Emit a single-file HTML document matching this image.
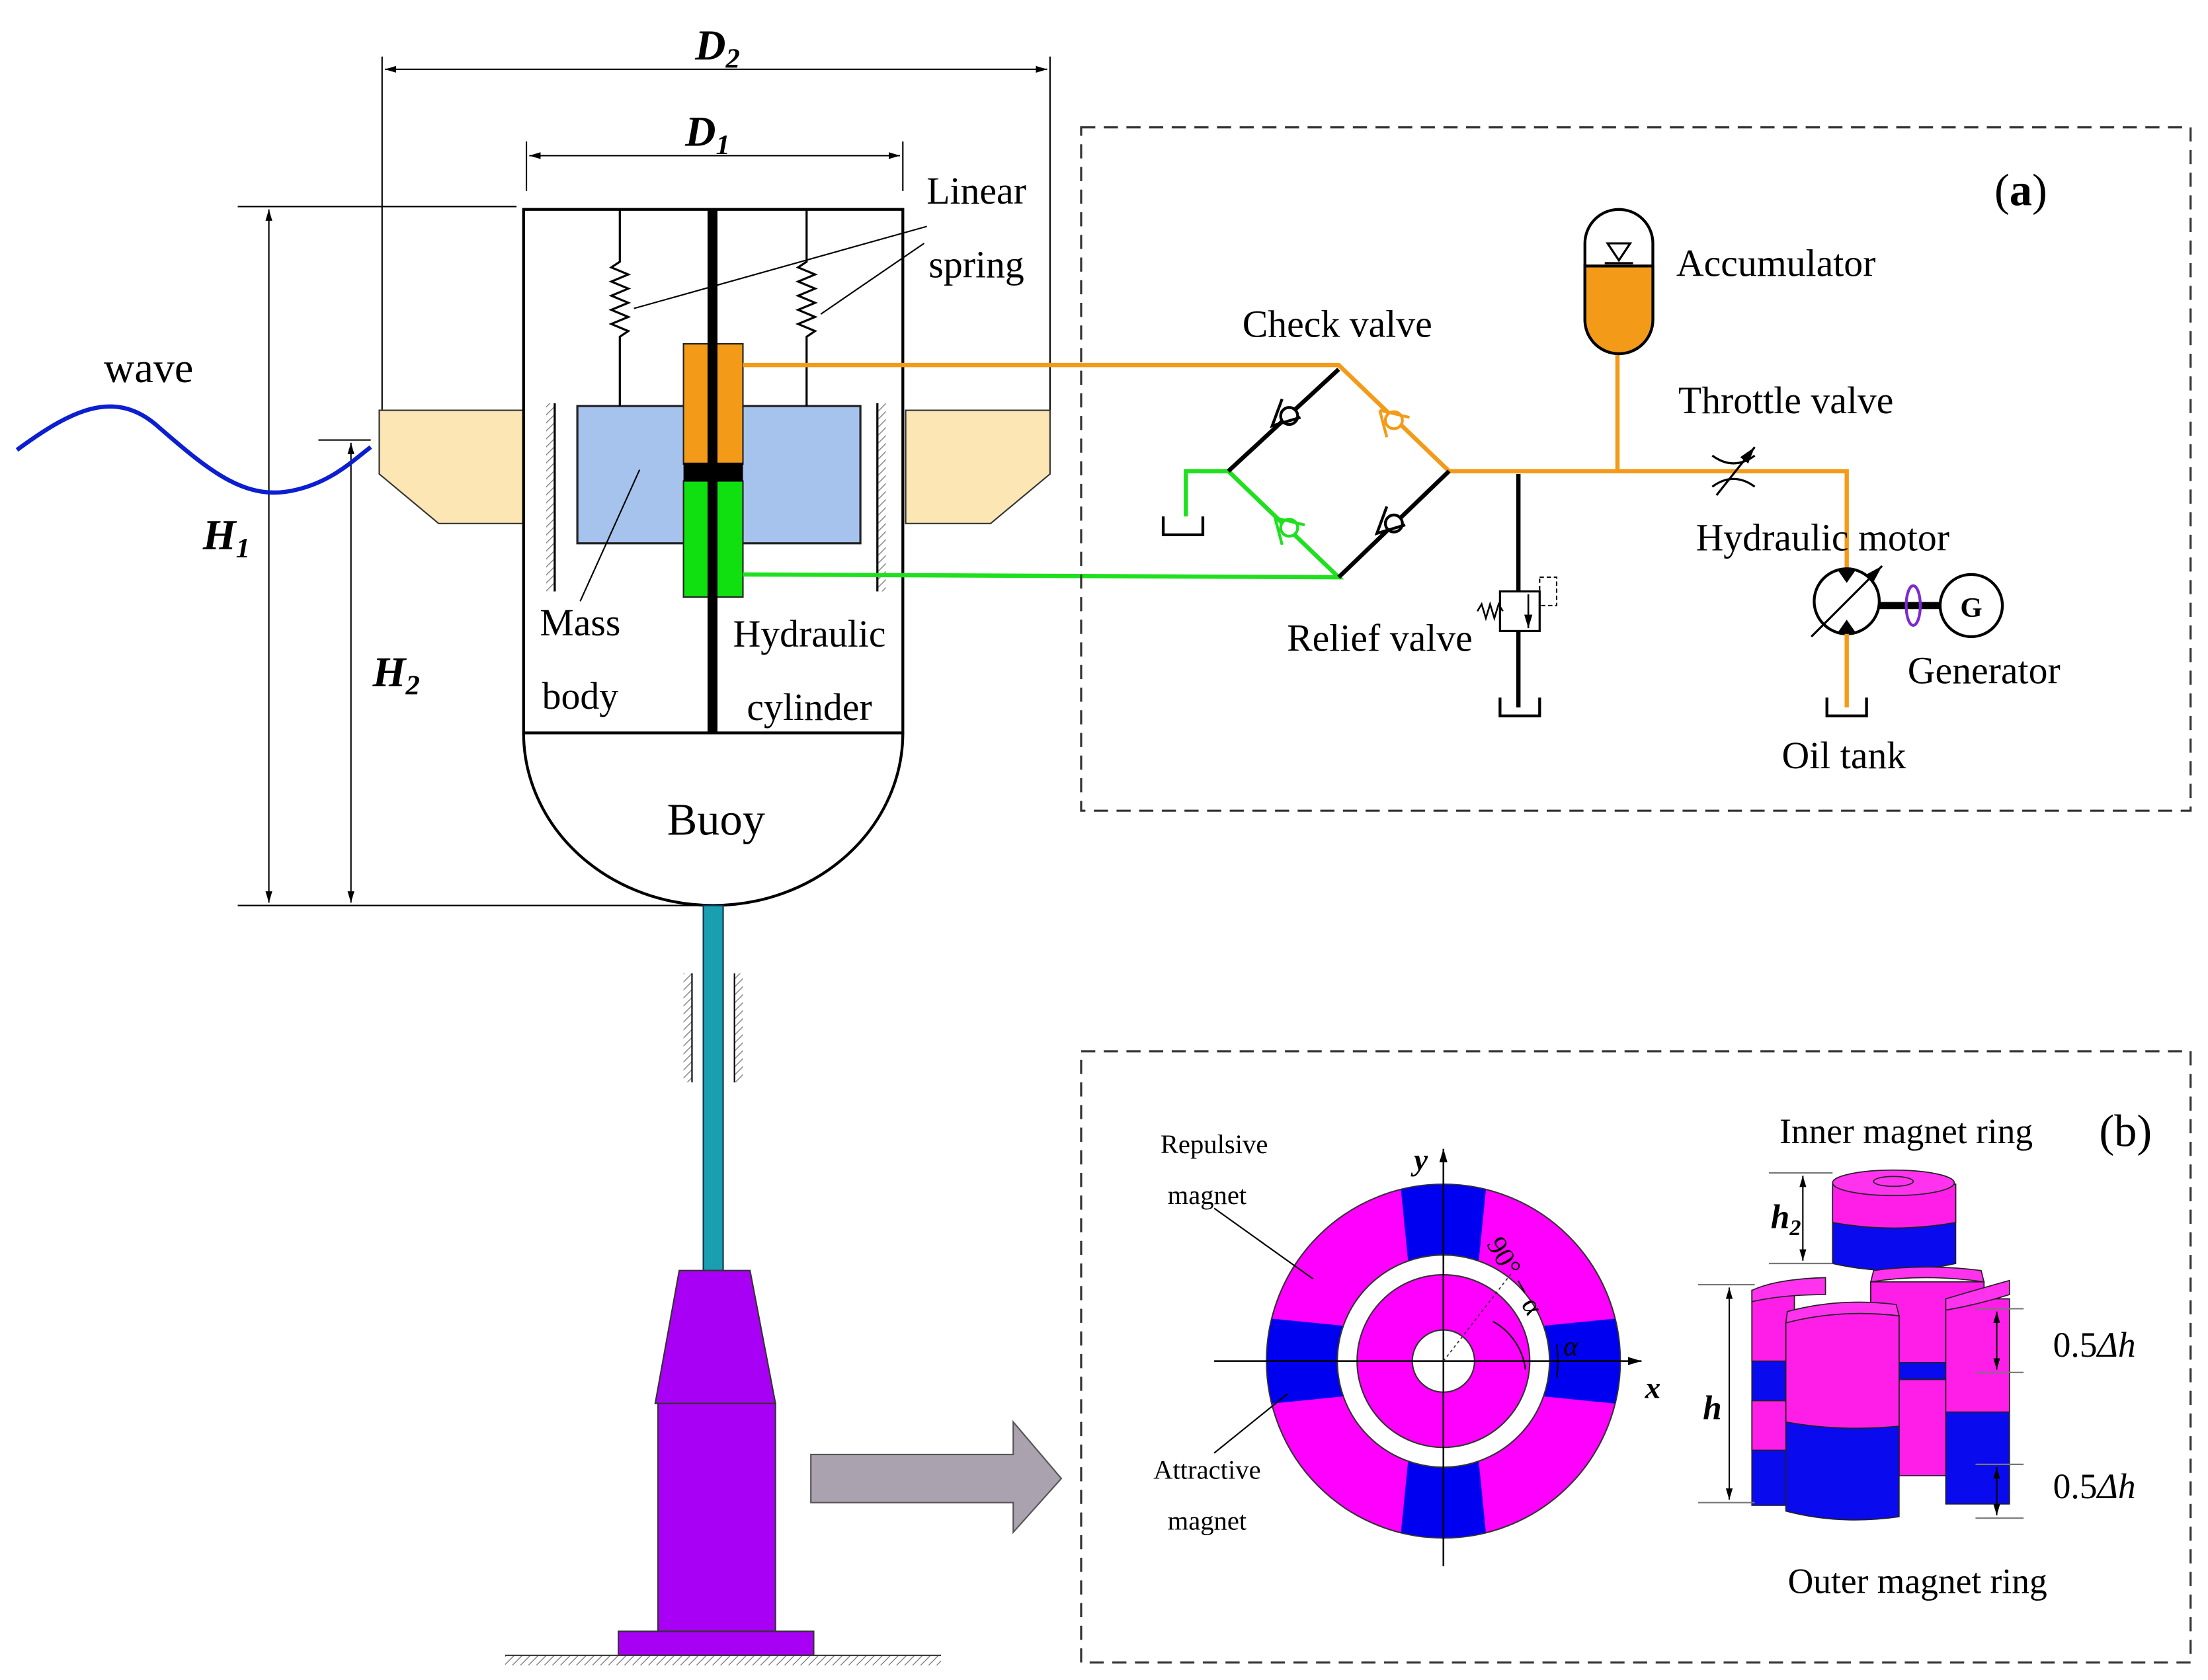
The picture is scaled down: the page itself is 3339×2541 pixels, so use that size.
<!DOCTYPE html>
<html><head><meta charset="utf-8"><style>
html,body{margin:0;padding:0;background:#fff;}
svg{display:block;}
text{font-family:"Liberation Serif",serif;}
</style></head><body>
<svg width="3339" height="2541" viewBox="0 0 1560.3 1187.4" preserveAspectRatio="none" xmlns="http://www.w3.org/2000/svg">
<defs>
<marker id="ar" viewBox="0 0 10 10" refX="10" refY="5" markerWidth="8" markerHeight="8" orient="auto-start-reverse"><path d="M0,2 L10,5 L0,8 Z" fill="#000"/></marker>
<pattern id="hat" width="4" height="4" patternUnits="userSpaceOnUse" patternTransform="rotate(45)"><line x1="0" y1="0" x2="0" y2="4" stroke="#777" stroke-width="1.2"/></pattern>
</defs>
<rect width="1560.3" height="1187.4" fill="#fff"/>

<g stroke="#000" stroke-width="1" fill="none">
<line x1="270" y1="40" x2="270" y2="290"/><line x1="742" y1="40" x2="742" y2="290"/>
<line x1="272" y1="49" x2="740" y2="49" marker-start="url(#ar)" marker-end="url(#ar)"/>
<line x1="372" y1="100" x2="372" y2="135"/><line x1="638" y1="100" x2="638" y2="135"/>
<line x1="374" y1="110" x2="636" y2="110" marker-start="url(#ar)" marker-end="url(#ar)"/>
<line x1="168" y1="146" x2="365" y2="146"/>
<line x1="168" y1="640" x2="500" y2="640"/>
<line x1="190" y1="148" x2="190" y2="638" marker-start="url(#ar)" marker-end="url(#ar)"/>
<line x1="225" y1="311" x2="262" y2="311"/>
<line x1="248" y1="313" x2="248" y2="638" marker-start="url(#ar)" marker-end="url(#ar)"/>
</g>
<text x="507" y="42" font-size="30" font-weight="bold" font-style="italic" text-anchor="middle">D<tspan font-size="20" dy="6">2</tspan></text>
<text x="500" y="103" font-size="30" font-weight="bold" font-style="italic" text-anchor="middle">D<tspan font-size="20" dy="6">1</tspan></text>
<text x="160" y="388" font-size="30" font-weight="bold" font-style="italic" text-anchor="middle">H<tspan font-size="20" dy="6">1</tspan></text>
<text x="280" y="485" font-size="30" font-weight="bold" font-style="italic" text-anchor="middle">H<tspan font-size="20" dy="6">2</tspan></text>

<text x="105" y="270" font-size="30" text-anchor="middle">wave</text>
<path d="M12,318 C50,290 80,275 110,300 C150,335 175,355 210,346 C235,340 250,325 262,316" stroke="#0b1ed0" stroke-width="3" fill="none"/>

<polygon points="268,290 370,290 370,370 310,370 268,335" fill="#fbe6b4" stroke="#333" stroke-width="1"/>
<polygon points="640,290 742,290 742,335 700,370 640,370" fill="#fbe6b4" stroke="#333" stroke-width="1"/>

<rect x="370" y="148" width="268" height="370" fill="none" stroke="#000" stroke-width="2"/>
<path d="M370,518 A134,122 0 0 0 638,518" fill="none" stroke="#000" stroke-width="2"/>
<text x="506" y="590" font-size="32" text-anchor="middle">Buoy</text>
<rect x="386" y="285" width="6" height="133" fill="url(#hat)"/><line x1="392" y1="285" x2="392" y2="418" stroke="#000" stroke-width="1.5"/>
<rect x="620" y="285" width="6" height="133" fill="url(#hat)"/><line x1="620" y1="285" x2="620" y2="418" stroke="#000" stroke-width="1.5"/>
<rect x="408" y="287" width="200" height="97" fill="#a6c3ed" stroke="#222" stroke-width="1.5"/>
<g stroke="#000" stroke-width="1.5" fill="none">
<path d="M438,148 V185 l-6,4 l12,5 l-12,5 l12,5 l-12,5 l12,5 l-12,5 l12,5 l-12,5 l12,5 l-6,4 V287"/>
<path d="M570,148 V185 l-6,4 l12,5 l-12,5 l12,5 l-12,5 l12,5 l-12,5 l12,5 l-12,5 l12,5 l-6,4 V287"/>
<line x1="655" y1="160" x2="448" y2="218" stroke-width="1"/>
<line x1="653" y1="172" x2="580" y2="222" stroke-width="1"/>
<line x1="452" y1="332" x2="410" y2="425" stroke-width="1"/>
</g>
<text x="690" y="144" font-size="27" text-anchor="middle">Linear</text>
<text x="690" y="196" font-size="27" text-anchor="middle">spring</text>
<text x="410" y="449" font-size="27" text-anchor="middle">Mass</text>
<text x="410" y="501" font-size="27" text-anchor="middle">body</text>
<text x="572" y="457" font-size="27" text-anchor="middle">Hydraulic</text>
<text x="572" y="509" font-size="27" text-anchor="middle">cylinder</text>
<rect x="483" y="243" width="42" height="85" fill="#f39b18" stroke="#222" stroke-width="1"/>
<rect x="483" y="340" width="42" height="82" fill="#10e010" stroke="#222" stroke-width="1"/>
<rect x="483" y="327" width="42" height="13" fill="#000"/>
<rect x="500" y="148" width="7" height="370" fill="#000"/>

<polyline points="525,258 946,258 1024,333 1305,333 1305,402" fill="none" stroke="#f39b18" stroke-width="3"/>
<polyline points="525,406 946,408 868,333 838,333 838,365" fill="none" stroke="#1ee01e" stroke-width="3"/>
<line x1="946" y1="261" x2="868" y2="333" stroke="#000" stroke-width="3"/>
<line x1="1024" y1="333" x2="946" y2="408" stroke="#000" stroke-width="3"/>
<g fill="#fff" stroke-width="2">
<circle cx="911" cy="294" r="6" stroke="#000"/><path d="M906,282 l-7,19 l20,-6" fill="none" stroke="#000"/>
<circle cx="985" cy="297" r="6" stroke="#f39b18"/><path d="M975,290 l5,19 M975,290 l21,5" fill="none" stroke="#f39b18"/>
<circle cx="911" cy="373" r="6" stroke="#1ee01e"/><path d="M901,366 l5,19 M901,366 l21,5" fill="none" stroke="#1ee01e"/>
<circle cx="985" cy="370" r="6" stroke="#000"/><path d="M980,358 l-7,19 l20,-6" fill="none" stroke="#000"/>
</g>
<path d="M822,365 V378 H850 V365" fill="none" stroke="#000" stroke-width="2"/>

<rect x="764" y="90" width="784" height="483" fill="none" stroke="#333" stroke-width="1.5" stroke-dasharray="10,6"/>
<text x="1428" y="145" font-size="32" text-anchor="middle">(<tspan font-weight="bold">a</tspan>)</text>
<text x="945" y="238" font-size="27" text-anchor="middle">Check  valve</text>
<line x1="1143" y1="248" x2="1143" y2="333" stroke="#f39b18" stroke-width="3"/>
<path d="M1120,172 A24,24 0 0 1 1168,172 V226 A24,24 0 0 1 1120,226 Z" fill="#fff" stroke="#000" stroke-width="2"/>
<path d="M1120,188 H1168 V226 A24,24 0 0 1 1120,226 Z" fill="#f39b18" stroke="#000" stroke-width="2"/>
<path d="M1136,172 H1152 L1144,184 Z" fill="none" stroke="#000" stroke-width="1.5"/>
<line x1="1134" y1="186" x2="1154" y2="186" stroke="#000" stroke-width="1.5"/>
<text x="1255" y="195" font-size="27" text-anchor="middle">Accumulator</text>
<path d="M1210,322 Q1225,333 1240,322 M1210,344 Q1225,333 1240,344" fill="none" stroke="#000" stroke-width="1.5"/>
<line x1="1213" y1="350" x2="1240" y2="316" stroke="#000" stroke-width="1.5" marker-end="url(#ar)"/>
<text x="1262" y="292" font-size="27" text-anchor="middle">Throttle  valve</text>
<line x1="1073" y1="335" x2="1073" y2="500" stroke="#000" stroke-width="3"/>
<rect x="1060" y="418" width="28" height="28" fill="#fff" stroke="#000" stroke-width="1.5"/>
<line x1="1080" y1="420" x2="1080" y2="444" stroke="#000" stroke-width="1.2" marker-end="url(#ar)"/>
<rect x="1088" y="408" width="12" height="20" fill="none" stroke="#000" stroke-width="1" stroke-dasharray="3,2"/>
<path d="M1044,432 l3,-5 l3,10 l3,-10 l3,10 l3,-10 l3,5" fill="none" stroke="#000" stroke-width="1.2"/>
<path d="M1060,493 V506 H1088 V493" fill="none" stroke="#000" stroke-width="2"/>
<text x="975" y="460" font-size="27" text-anchor="middle">Relief  valve</text>
<circle cx="1305" cy="425" r="23" fill="#fff" stroke="#000" stroke-width="2"/>
<path d="M1298,402 L1312,402 L1305,412 Z M1298,448 L1312,448 L1305,438 Z" fill="#000"/>
<line x1="1280" y1="450" x2="1330" y2="400" stroke="#000" stroke-width="1.5" marker-end="url(#ar)"/>
<line x1="1328" y1="428" x2="1371" y2="428" stroke="#000" stroke-width="5"/>
<ellipse cx="1352" cy="428" rx="5" ry="14" fill="none" stroke="#7b2ad0" stroke-width="2"/>
<circle cx="1393" cy="428" r="22" fill="#fff" stroke="#000" stroke-width="2"/>
<text x="1393" y="436" font-size="20" font-weight="bold" text-anchor="middle">G</text>
<line x1="1305" y1="448" x2="1305" y2="500" stroke="#f39b18" stroke-width="3"/>
<path d="M1291,493 V506 H1319 V493" fill="none" stroke="#000" stroke-width="2"/>
<text x="1288" y="389" font-size="27" text-anchor="middle">Hydraulic  motor</text>
<text x="1402" y="483" font-size="27" text-anchor="middle">Generator</text>
<text x="1303" y="543" font-size="27" text-anchor="middle">Oil  tank</text>

<rect x="497" y="640" width="14" height="258" fill="#1a9fb0" stroke="#135" stroke-width="1"/>
<rect x="483" y="688" width="6" height="77" fill="url(#hat)"/><line x1="489" y1="688" x2="489" y2="765" stroke="#000"/>
<rect x="519" y="688" width="6" height="77" fill="url(#hat)"/><line x1="519" y1="688" x2="519" y2="765" stroke="#000"/>
<polygon points="480,898 530,898 548,992 463,992" fill="#a800f5" stroke="#333" stroke-width="1"/>
<rect x="465" y="992" width="83" height="161" fill="#a800f5" stroke="#333" stroke-width="1"/>
<rect x="437" y="1153" width="138" height="17" fill="#a800f5" stroke="#333" stroke-width="1"/>
<rect x="357" y="1170" width="308" height="7" fill="url(#hat)"/>
<line x1="357" y1="1170" x2="665" y2="1170" stroke="#333" stroke-width="1"/>
<polygon points="573,1028 716,1028 716,1005 750,1045 716,1083 716,1062 573,1062" fill="#aaa2ae" stroke="#555" stroke-width="1"/>

<rect x="764" y="743" width="784" height="432" fill="none" stroke="#333" stroke-width="1.5" stroke-dasharray="10,6"/>
<text x="1502" y="810" font-size="32" text-anchor="middle">(b)</text>
<g transform="translate(1020,962)">
<circle r="125" fill="#ff00ff" stroke="#333" stroke-width="1"/>
<path d="M-30,-121 A125,125 0 0 1 30,-121 L25,-71 A75,75 0 0 0 -25,-71 Z" fill="#0000f0"/>
<path d="M-30,121 A125,125 0 0 0 30,121 L25,71 A75,75 0 0 1 -25,71 Z" fill="#0000f0"/>
<path d="M-121,-30 A125,125 0 0 0 -121,30 L-71,25 A75,75 0 0 1 -71,-25 Z" fill="#0000f0"/>
<path d="M121,-30 A125,125 0 0 1 121,30 L71,25 A75,75 0 0 0 71,-25 Z" fill="#0000f0"/>
<circle r="75" fill="#fff" stroke="#333" stroke-width="1"/>
<circle r="61" fill="#ff00ff" stroke="#333" stroke-width="1"/>
<circle r="22" fill="#fff" stroke="#333" stroke-width="1"/>
<line x1="-162" y1="0" x2="140" y2="0" stroke="#000" stroke-width="1.2" marker-end="url(#ar)"/>
<line x1="0" y1="145" x2="0" y2="-150" stroke="#000" stroke-width="1.2" marker-end="url(#ar)"/>
<line x1="0" y1="0" x2="48" y2="-62" stroke="#333" stroke-width="0.8" stroke-dasharray="2,2"/>
<path d="M35,-28 A45,45 0 0 1 58,6" fill="none" stroke="#000" stroke-width="1"/>
<path d="M80,-12 A80,80 0 0 1 80,12" fill="none" stroke="#000" stroke-width="1"/>
</g>
<text x="1004" y="827" font-size="22" font-weight="bold" font-style="italic" text-anchor="middle">y</text>
<text x="1168" y="988" font-size="22" font-weight="bold" font-style="italic" text-anchor="middle">x</text>
<text x="1065" y="905" font-size="20" text-anchor="middle" transform="rotate(60 1065 905)">90° − α</text>
<text x="1110" y="958" font-size="20" font-style="italic" text-anchor="middle">α</text>
<text x="858" y="815" font-size="19" text-anchor="middle">Repulsive</text>
<text x="853" y="851" font-size="19" text-anchor="middle">magnet</text>
<text x="853" y="1045" font-size="19" text-anchor="middle">Attractive</text>
<text x="853" y="1081" font-size="19" text-anchor="middle">magnet</text>
<line x1="858" y1="854" x2="928" y2="904" stroke="#000" stroke-width="1"/>
<line x1="858" y1="1027" x2="910" y2="985" stroke="#000" stroke-width="1"/>

<path d="M1295,837 V893 Q1338,903 1382,893 V837 Z" fill="#0a0aee" stroke="#222" stroke-width="0.8"/>
<path d="M1295,837 V864 Q1338,872 1382,864 V837 Z" fill="#ff1ee8" stroke="#222" stroke-width="0.8"/>
<ellipse cx="1338" cy="836" rx="43" ry="9" fill="#ff33ee" stroke="#222" stroke-width="0.8"/>
<ellipse cx="1338" cy="835" rx="14" ry="3.5" fill="none" stroke="#222" stroke-width="0.8"/>
<line x1="1250" y1="829" x2="1295" y2="829" stroke="#777"/><line x1="1250" y1="893" x2="1295" y2="893" stroke="#777"/>
<line x1="1274" y1="831" x2="1274" y2="891" stroke="#000" marker-start="url(#ar)" marker-end="url(#ar)"/>
<text x="1262" y="868" font-size="24" font-weight="bold" font-style="italic" text-anchor="middle">h<tspan font-size="16" dy="5">2</tspan></text>

<g stroke="#222" stroke-width="0.8">
<rect x="1322" y="906" width="80" height="125" fill="#0a0aee"/>
<rect x="1322" y="906" width="80" height="70" fill="#ff1ee8"/>
<path d="M1322,906 Q1360,900 1402,906 L1400,898 Q1360,893 1324,898 Z" fill="#ff33ee"/>
<rect x="1238" y="912" width="30" height="152" fill="#0a0aee"/>
<rect x="1238" y="912" width="30" height="50" fill="#ff1ee8"/>
<rect x="1238" y="990" width="30" height="35" fill="#ff1ee8"/>
<path d="M1238,912 Q1255,904 1290,903 V915 Q1260,915 1238,920 Z" fill="#ff33ee"/>
<rect x="1342" y="975" width="40" height="68" fill="#ff1ee8"/>
<rect x="1342" y="963" width="40" height="12" fill="#0a0aee"/>
<rect x="1375" y="918" width="45" height="145" fill="#0a0aee"/>
<rect x="1375" y="918" width="45" height="80" fill="#ff1ee8"/>
<path d="M1375,918 Q1395,912 1420,905 V915 Q1398,922 1375,926 Z" fill="#ff33ee"/>
<path d="M1262,935 Q1300,925 1342,930 V1072 Q1300,1078 1262,1068 Z" fill="#0a0aee"/>
<path d="M1262,935 Q1300,925 1342,930 V1008 Q1300,1012 1262,1005 Z" fill="#ff1ee8"/>
<path d="M1262,935 Q1300,925 1342,930 L1340,922 Q1300,917 1263,927 Z" fill="#ff33ee"/>
</g>
<line x1="1200" y1="908" x2="1240" y2="908" stroke="#777"/><line x1="1200" y1="1062" x2="1240" y2="1062" stroke="#777"/>
<line x1="1222" y1="910" x2="1222" y2="1060" stroke="#000" marker-start="url(#ar)" marker-end="url(#ar)"/>
<text x="1210" y="1003" font-size="24" font-weight="bold" font-style="italic" text-anchor="middle">h</text>
<line x1="1396" y1="925" x2="1430" y2="925" stroke="#777"/><line x1="1396" y1="970" x2="1430" y2="970" stroke="#777"/>
<line x1="1411" y1="927" x2="1411" y2="968" stroke="#000" marker-start="url(#ar)" marker-end="url(#ar)"/>
<line x1="1396" y1="1035" x2="1430" y2="1035" stroke="#777"/><line x1="1396" y1="1073" x2="1430" y2="1073" stroke="#777"/>
<line x1="1411" y1="1037" x2="1411" y2="1071" stroke="#000" marker-start="url(#ar)" marker-end="url(#ar)"/>
<text x="1480" y="959" font-size="25" text-anchor="middle">0.5<tspan font-style="italic">Δh</tspan></text>
<text x="1480" y="1059" font-size="25" text-anchor="middle">0.5<tspan font-style="italic">Δh</tspan></text>
<text x="1347" y="808" font-size="25" text-anchor="middle">Inner  magnet  ring</text>
<text x="1355" y="1126" font-size="25" text-anchor="middle">Outer  magnet  ring</text>
</svg>
</body></html>
